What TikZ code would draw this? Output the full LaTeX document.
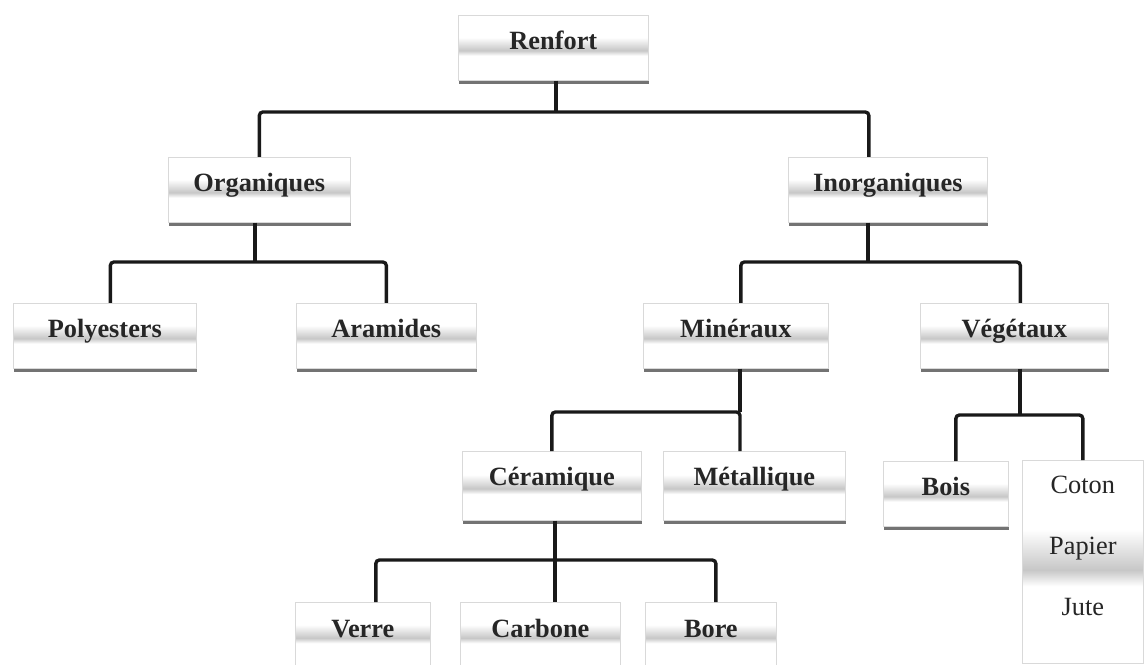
\documentclass[tikz,border=0pt]{standalone}
\usepackage{fontspec}
\setmainfont{Liberation Serif}
\usetikzlibrary{shadows}

\pgfdeclareverticalshading{boxband}{100bp}{color(0bp)=(white); color(44bp)=(white); color(48bp)=(black!22); color(58bp)=(white); color(100bp)=(white)}

\tikzset{
  sbox/.style={draw=black!15, line width=0.4pt, shading=boxband, anchor=north west,
    inner sep=0pt, text height=0.68cm, text depth=0.62cm, text=black!85,
    font=\fontsize{15}{18}\selectfont\bfseries},
  tbox/.style={sbox, drop shadow={shadow xshift=0.6pt, shadow yshift=-1.9pt, fill=black!55, opacity=1}},
  link/.style={draw=black!90, line width=1.9pt, rounded corners=2pt}
}

\begin{document}
\begin{tikzpicture}[x=0.02cm, y=-0.02cm]
\useasboundingbox (0,0) rectangle (1145,665);
\clip (0,0) rectangle (1145,665);

% boxes
\node[tbox, minimum width=3.8cm] (renfort) at (458,15) {Renfort};
\node[tbox, minimum width=3.64cm] (organ) at (168,157) {Organiques};
\node[tbox, minimum width=3.98cm] (inorg) at (788,157) {Inorganiques};
\node[tbox, minimum width=3.66cm] (poly) at (13,303) {Polyesters};
\node[tbox, minimum width=3.6cm] (aram) at (296,303) {Aramides};
\node[tbox, minimum width=3.7cm] (miner) at (643,303) {Minéraux};
\node[tbox, minimum width=3.76cm] (veget) at (920,303) {Végétaux};
\node[tbox, minimum width=3.58cm, text depth=0.7cm] (ceram) at (462,451) {Céramique};
\node[tbox, minimum width=3.64cm, text depth=0.7cm] (metal) at (663,451) {Métallique};
\node[tbox, minimum width=2.5cm] (bois) at (883,461) {Bois};
\node[sbox, minimum width=2.42cm, align=center, font=\fontsize{15}{34.6}\selectfont,
  text height=3.1cm, text depth=0.96cm] (coton) at (1022,460) {Coton\\Papier\\Jute};
\node[tbox, minimum width=2.7cm, text height=0.7cm] (verre) at (295,602) {Verre};
\node[tbox, minimum width=3.2cm, text height=0.7cm] (carb) at (460,602) {Carbone};
\node[tbox, minimum width=2.62cm, text height=0.7cm] (bore) at (645,602) {Bore};

% branches
\coordinate (j0) at (556,112);
\draw[link] (j0 |- renfort.south) -- (j0);
\draw[link] (organ.north) |- (j0) -| ([xshift=-0.38cm]inorg.north);

\coordinate (j1) at (255,262);
\draw[link] (j1 |- organ.south) -- (j1);
\draw[link] ([xshift=0.11cm]poly.north) |- (j1) -| (aram.north);

\coordinate (j2) at (868,262);
\draw[link] (j2 |- inorg.south) -- (j2);
\draw[link] ([xshift=0.1cm]miner.north) |- (j2) -| ([xshift=0.12cm]veget.north);

\coordinate (j3) at (740,412);
\draw[link] (j3 |- miner.south) -- (j3);
\draw[link] (ceram.north) |- (j3) -- (j3 |- metal.north);

\coordinate (j4) at (1020,415);
\draw[link] (j4 |- veget.south) -- (j4);
\draw[link] ([xshift=0.2cm]bois.north) |- (j4) -| (coton.north);

\coordinate (j5) at (555,560);
\draw[link] (j5 |- ceram.south) -- (j5);
\draw[link] ([xshift=0.26cm]verre.north) |- (j5) -| ([xshift=0.1cm]bore.north);
\draw[link] (j5) -- (j5 |- carb.north);
\end{tikzpicture}
\end{document}
